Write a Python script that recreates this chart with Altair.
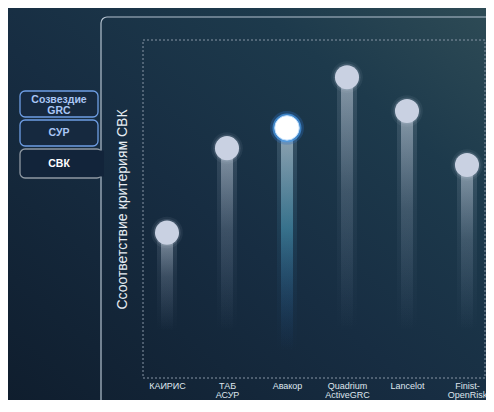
import altair as alt
import pandas as pd

# --- data ---
names = ["КАИРИС", "ТАБ\nАСУР", "Авакор", "Quadrium\nActiveGRC", "Lancelot", "Finist-\nOpenRisk"]
values = [43, 68, 74, 89, 79, 63]
highlight = "Авакор"
axis_title = "Ссоответствие критериям СВК"
tab_labels = [["Созвездие", "GRC"], ["СУР"], ["СВК"]]

df = pd.DataFrame({"name": names, "value": values})
one = pd.DataFrame({"k": [0]})

W, H = 342, 338
FONT = "Liberation Sans"

xenc = alt.X("name:N", sort=names,
             scale=alt.Scale(type="point", range=[24, 324], padding=0),
             axis=alt.Axis(title=None, labelExpr="split(datum.label, '\\n')",
                           labelColor="#dfe6ee", labelFontSize=9, labelFont=FONT,
                           labelAngle=0, labelPadding=3, labelLineHeight=9,
                           labelLimit=0, ticks=False, domain=False, grid=False,
                           zindex=2))
yscale = alt.Scale(domain=[0, 100], nice=False, zero=True)
yenc = alt.Y("value:Q", scale=yscale,
             axis=alt.Axis(title=axis_title, labels=False, ticks=False, domain=False,
                           grid=False, titleColor="#e8eef4", titleFontSize=14,
                           titleFont=FONT, titleFontWeight="normal",
                           titleX=-17, titleY=H / 2, titleAngle=-90,
                           titleAlign="center", titleBaseline="alphabetic",
                           zindex=2))

# background gradient
bg = alt.Chart(one).mark_rect(
    color=alt.LinearGradient(gradient="linear", x1=0, y1=1, x2=1, y2=0, stops=[
        alt.GradientStop(color="#0f1d2d", offset=0),
        alt.GradientStop(color="#172d42", offset=0.45),
        alt.GradientStop(color="#1d3a4c", offset=0.75),
        alt.GradientStop(color="#2f4c56", offset=1)]),
    clip=False
).encode(x=alt.value(-140), x2=alt.value(350), y=alt.value(-40), y2=alt.value(370))

# main panel border
panel = alt.Chart(one).mark_rect(
    fill=None, stroke="#b4c2cf", strokeWidth=1.2, cornerRadius=6, clip=False
).encode(x=alt.value(-42), x2=alt.value(380), y=alt.value(-23), y2=alt.value(400))

# tabs
tabs = pd.DataFrame({
    "x": [-123, -123, -123], "x2": [-45, -45, -41],
    "y": [51, 80, 109], "y2": [77, 106, 138],
    "stroke": ["#6e9de3", "#6e9de3", "#8e98a2"],
    "fill": ["#16293f", "#16293f", "#12243a"],
})
tab_rects = []
for i in range(3):
    r = tabs.iloc[i]
    tab_rects.append(alt.Chart(one).mark_rect(
        fill=r["fill"], stroke=r["stroke"], strokeWidth=1.3, cornerRadius=5, clip=False
    ).encode(x=alt.value(float(r["x"])), x2=alt.value(float(r["x2"])),
             y=alt.value(float(r["y"])), y2=alt.value(float(r["y2"]))))
gap = alt.Chart(one).mark_rect(fill="#12243a", clip=False).encode(
    x=alt.value(-44), x2=alt.value(-39), y=alt.value(110.5), y2=alt.value(136.5))

tab_texts = []
tab_y = [59.5, 93, 123.5]
tab_col = ["#a9c6f5", "#a9c6f5", "#ffffff"]
for i, lab in enumerate(tab_labels):
    tab_texts.append(alt.Chart(one).mark_text(
        text=lab if len(lab) > 1 else lab[0], font=FONT, fontSize=10.5, fontWeight="bold",
        color=tab_col[i], align="center", baseline="middle", lineHeight=11, clip=False
    ).encode(x=alt.value(-84), y=alt.value(tab_y[i])))

# dashed plot frame
frame = alt.Chart(one).mark_rect(
    fill=None, stroke="#8795a5", strokeWidth=1, strokeDash=[2, 2]
).encode(x=alt.value(0), x2=alt.value(W), y=alt.value(0), y2=alt.value(H))

base = alt.Chart(df)
normal = base.transform_filter(alt.datum.name != highlight)
hi = base.transform_filter(alt.datum.name == highlight)

def grad(top, mid, bottom):
    return alt.LinearGradient(gradient="linear", x1=0, y1=0, x2=0, y2=1, stops=[
        alt.GradientStop(color=top, offset=0),
        alt.GradientStop(color=mid, offset=0.45),
        alt.GradientStop(color=bottom, offset=1)])

streak_w = normal.mark_bar(size=20, color=grad("rgba(200,212,228,0.16)", "rgba(170,185,205,0.07)", "rgba(150,170,200,0)")).encode(
    x=xenc, y=yenc, y2=alt.datum(14))
streak_n = normal.mark_bar(size=12, color=grad("rgba(215,225,238,0.5)", "rgba(170,185,205,0.2)", "rgba(150,170,200,0)")).encode(
    x=xenc, y=yenc, y2=alt.datum(14))
hstreak_w = hi.mark_bar(size=20, color=grad("rgba(200,220,235,0.18)", "rgba(70,150,185,0.14)", "rgba(30,80,140,0)")).encode(
    x=xenc, y=yenc, y2=alt.datum(8))
hstreak_n = hi.mark_bar(size=12, color=grad("rgba(225,235,245,0.55)", "rgba(80,165,195,0.5)", "rgba(30,80,150,0)")).encode(
    x=xenc, y=yenc, y2=alt.datum(8))

glow = normal.mark_point(filled=True, shape="circle", size=1000, color="#c8d2e4", opacity=0.07).encode(x=xenc, y=yenc)
glow2 = normal.mark_point(filled=True, shape="circle", size=740, color="#c8d2e4", opacity=0.16).encode(x=xenc, y=yenc)
dots = normal.mark_point(filled=True, shape="circle", size=580, color="#c9d1e2", opacity=1).encode(x=xenc, y=yenc)

hglow = hi.mark_point(filled=True, shape="circle", size=1150, color="#2f6fc4", opacity=0.3).encode(x=xenc, y=yenc)
hglow2 = hi.mark_point(filled=True, shape="circle", size=840, color="#4a9be8", opacity=0.7).encode(x=xenc, y=yenc)
hdot = hi.mark_point(filled=True, shape="circle", size=600, color="#ffffff", opacity=1,
                     stroke="#bfe0ff", strokeWidth=1).encode(x=xenc, y=yenc)

chart = alt.layer(
    bg, panel, *tab_rects, gap, *tab_texts, frame,
    streak_w, streak_n, hstreak_w, hstreak_n,
    glow, glow2, dots, hglow, hglow2, hdot
).properties(
    width=W, height=H,
    autosize=alt.AutoSizeParams(type="none"),
    padding={"left": 135, "top": 32, "right": 1, "bottom": 22},
    background="#12243a"
).configure_view(stroke=None, fill=None)

chart.save("out.html", embed_options={"renderer": "svg", "actions": False})
